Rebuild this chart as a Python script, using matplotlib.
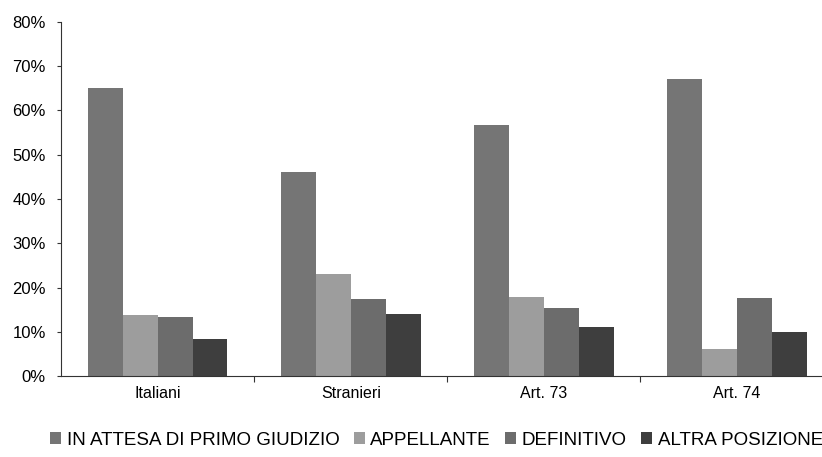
import matplotlib.pyplot as plt
import numpy as np
from matplotlib.ticker import PercentFormatter

plt.rcParams['font.family'] = ['Liberation Sans', 'DejaVu Sans']

# dati
categorie = ['Italiani', 'Stranieri', 'Art. 73', 'Art. 74']
serie = ['IN ATTESA DI PRIMO GIUDIZIO', 'APPELLANTE', 'DEFINITIVO', 'ALTRA POSIZIONE']
attesa = [0.650, 0.460, 0.568, 0.671]
appellante = [0.138, 0.230, 0.179, 0.062]
definitivo = [0.134, 0.174, 0.154, 0.176]
altra = [0.083, 0.141, 0.110, 0.100]
colori = ['#757575', '#9d9d9d', '#6c6c6c', '#3e3e3e']

valori = [attesa, appellante, definitivo, altra]

fig = plt.figure(figsize=(8.22, 4.57), dpi=100)
ax = fig.add_axes([0.0742, 0.177, 0.9258, 0.775])

x = np.arange(len(categorie))
w = 0.181
for i, (vals, nome, col) in enumerate(zip(valori, serie, colori)):
    ax.bar(x + (i - 1.5) * w, vals, w, color=col, label=nome, linewidth=0)

ax.set_ylim(0, 0.8)
ax.set_xlim(-0.5, 3.44)
ax.yaxis.set_major_formatter(PercentFormatter(1.0, decimals=0))
ax.set_yticks(np.arange(0, 0.81, 0.1))

ax.set_xticks([0.5, 1.5, 2.5])
ax.set_xticklabels([])
ax.set_xticks(x, minor=True)
ax.set_xticklabels(categorie, minor=True)
ax.tick_params(axis='x', which='minor', length=0, pad=7, labelsize=11.5)
ax.tick_params(axis='x', which='major', length=4, direction='out', color='#333333')
ax.tick_params(axis='y', length=3, direction='out', labelsize=12, color='#333333', pad=8)

for s in ['top', 'right']:
    ax.spines[s].set_visible(False)
ax.spines['left'].set_color('#333333')
ax.spines['bottom'].set_color('#333333')

fig.legend(loc='center', bbox_to_anchor=(0.531, 0.037), ncol=4, frameon=False,
           fontsize=13.5, handlelength=0.6, handleheight=0.6, handletextpad=0.3,
           columnspacing=0.75, borderpad=0)

fig.savefig('out.png', dpi=100)
